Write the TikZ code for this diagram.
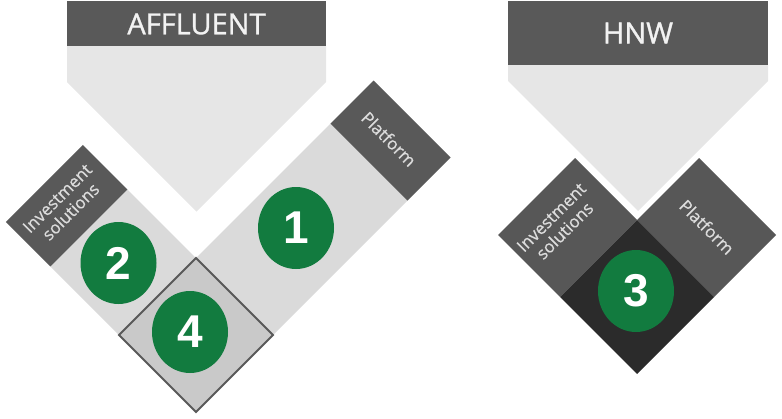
\documentclass[tikz,border=0pt]{standalone}
\usepackage{fontspec}
\setmainfont{Open Sans}
\newfontfamily\numfont{Liberation Sans}
\newfontfamily\titlefont{Open Sans}[FakeBold=1.2]
\newfontfamily\tagfont{Open Sans}[FakeBold=0.6]
\usetikzlibrary{shapes.geometric}
\definecolor{hdr}{HTML}{595959}
\definecolor{penta}{HTML}{E6E6E6}
\definecolor{strip}{HTML}{DADADA}
\definecolor{diam}{HTML}{C9C9C9}
\definecolor{darkbox}{HTML}{575757}
\definecolor{core}{HTML}{2B2B2B}
\definecolor{badge}{HTML}{127B3F}
\definecolor{lbl}{HTML}{DCDCDC}
\begin{document}
\begin{tikzpicture}[x=1pt,y=-1pt,
  headerbox/.style={fill=hdr},
  funnel/.style={fill=penta},
  stripbox/.style={fill=strip},
  labelbox/.style={fill=hdr},
  overlapbox/.style={fill=diam, draw=hdr, line width=2pt, line join=miter},
  hnwbox/.style={fill=darkbox},
  corebox/.style={fill=core},
  numbadge/.style={ellipse, fill=badge, minimum width=76pt, minimum height=82pt, inner sep=0pt, text=white, font=\numfont\bfseries\fontsize{46}{46}\selectfont},
  tag/.style={text=lbl, font=\tagfont\fontsize{17}{19}\selectfont, align=center, inner sep=0pt},
  title/.style={text=white!95!black, font=\titlefont\fontsize{29}{30}\selectfont, inner sep=0pt}
]
\useasboundingbox (0,0) rectangle (782,418);

% ---------- AFFLUENT group ----------
\fill[headerbox] (67,1) rectangle (326,46);
\fill[funnel] (67,46) -- (326,46) -- (326,82) -- (196.5,211.5) -- (67,82) -- cycle;
\node[title] (aff) at (196.5,24) {AFFLUENT};

\coordinate (aT) at (196,258);
\coordinate (aL) at (119,335);
\coordinate (aR) at (273,335);
\coordinate (aB) at (196,412);
% left arm
\fill[stripbox] (aL) -- (aT) -- (127.4,189.4) -- (50.4,266.4) -- cycle;
\fill[labelbox] (50.4,266.4) -- (127.4,189.4) -- (82.9,144.9) -- (5.9,221.9) -- cycle;
% right arm
\fill[stripbox] (aT) -- (aR) -- (407.4,200.6) -- (330.4,123.6) -- cycle;
\fill[labelbox] (330.4,123.6) -- (407.4,200.6) -- (450.5,157.5) -- (373.5,80.5) -- cycle;
% overlap diamond
\draw[overlapbox] (aT) -- (aR) -- (aB) -- (aL) -- cycle;

\node[tag, rotate=45] (ainv) at (64,205) {Investment\\solutions};
\node[tag, rotate=-45] (aplat) at (389,139) {Platform};

\node[numbadge] (n1) at (296,228) {1};
\node[numbadge] (n2) at (118.5,263) {2};
\node[numbadge] (n4) at (190,332) {4};

% ---------- HNW group ----------
\fill[headerbox] (508,1) rectangle (768,65);
\fill[funnel] (508,65) -- (768,65) -- (768,81) -- (638,211) -- (508,81) -- cycle;
\node[title] (hnw) at (638,33) {HNW};

\coordinate (hT) at (637,220);
\coordinate (hL) at (560,297);
\coordinate (hR) at (714,297);
\coordinate (hB) at (637,374);
\fill[hnwbox] (hL) -- (hT) -- (575,158) -- (498,235) -- cycle;
\fill[hnwbox] (hT) -- (hR) -- (776,235) -- (699,158) -- cycle;
\fill[corebox] (hT) -- (hR) -- (hB) -- (hL) -- cycle;

\node[tag, rotate=45] (hinv) at (558,224) {Investment\\solutions};
\node[tag, rotate=-45] (hplat) at (707,227) {Platform};

\node[numbadge] (n3) at (636,291) {3};
\end{tikzpicture}
\end{document}
